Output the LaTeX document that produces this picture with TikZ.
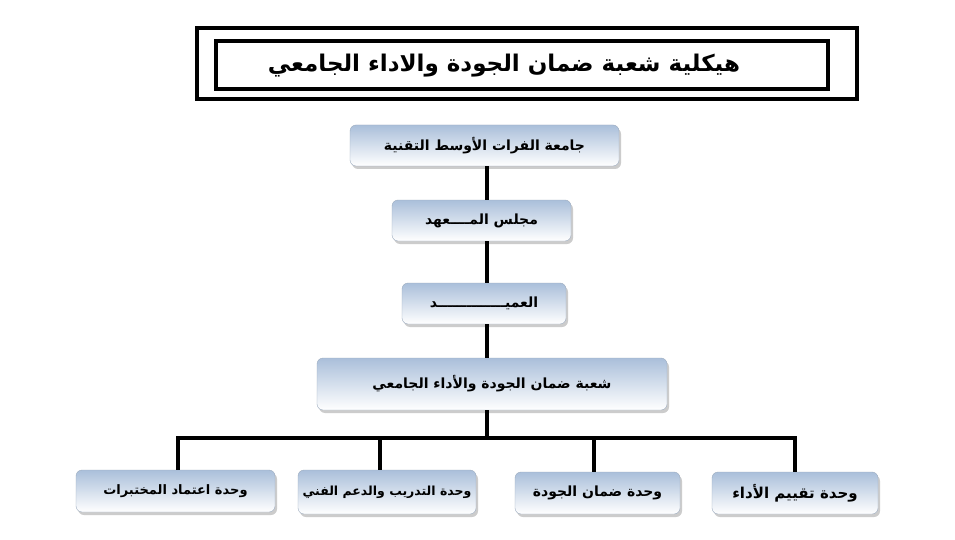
\documentclass[tikz,border=0pt]{standalone}
\usepackage{fontspec}
\usepackage{xcolor}
\usepackage{tikz}
\usetikzlibrary{shadows}
\TeXXeTstate=1
\newfontfamily\arabicfont[Script=Arabic]{DejaVu Sans}
\definecolor{boxtop}{RGB}{170,191,218}
\newcommand{\ar}[1]{\arabicfont\bfseries\beginR #1\endR}

\begin{document}
\begin{tikzpicture}[x=1pt, y=-1pt,
    unitbox/.style={rounded corners=6pt, top color=boxtop, bottom color=white,
      draw=boxtop!70!gray, line width=0.4pt, inner sep=2pt,
      drop shadow={opacity=0.4, shadow xshift=2pt, shadow yshift=-3pt},
      font=\fontsize{14}{16}\selectfont},
    link/.style={line width=3.5pt, black}]
  % page frame
  \useasboundingbox (0,0) rectangle (955,540);
  \fill[white] (0,0) rectangle (955,540);

  % title frame, double border
  \draw[line width=4pt] (197,28) rectangle (857,99);
  \draw[line width=4pt] (216,41) rectangle (828,89);
  \node (title) at (504,66) {\fontsize{23}{27}\selectfont\ar{هيكلية شعبة ضمان الجودة والاداء الجامعي}};

  % trunk of the chart
  \coordinate (trunk) at (487,0);
  \node[unitbox, minimum width=269pt, minimum height=41pt] (uni) at (484.5,145.5) {\ar{جامعة الفرات الأوسط التقنية}};
  \node[unitbox, minimum width=179pt, minimum height=41pt] (council) at (481.5,220.5) {\ar{مجلس المــــعهد}};
  \node[unitbox, minimum width=164pt, minimum height=41pt] (dean) at (484,303.5) {\ar{العميــــــــــــــد}};
  \node[unitbox, minimum width=350pt, minimum height=52pt] (dept) at (492,384) {\ar{شعبة ضمان الجودة والأداء الجامعي}};

  % units
  \node[unitbox, minimum width=199pt, minimum height=42pt, font=\fontsize{13}{15}\selectfont] (lab) at (175.5,491) {\ar{وحدة اعتماد المختبرات}};
  \node[unitbox, minimum width=178pt, minimum height=44pt, font=\fontsize{12.5}{15}\selectfont] (train) at (387,492) {\ar{وحدة التدريب والدعم الفني}};
  \node[unitbox, minimum width=165pt, minimum height=42pt] (qual) at (597.5,493) {\ar{وحدة ضمان الجودة}};
  \node[unitbox, minimum width=166pt, minimum height=42pt, font=\fontsize{15}{17}\selectfont] (perf) at (795,493) {\ar{وحدة تقييم الأداء}};

  % connectors
  \draw[link] (uni.south -| trunk) -- (council.north -| trunk);
  \draw[link] (council.south -| trunk) -- (dean.north -| trunk);
  \draw[link] (dean.south -| trunk) -- (dept.north -| trunk);
  \draw[link] (dept.south -| trunk) -- ++(0,28) coordinate (bar);
  \draw[link] ([xshift=2.5pt]lab.north) |- (bar) -| (perf.north);
  \draw[link] ([xshift=-7pt]train.north) -- ([xshift=-7pt]train.north |- bar);
  \draw[link] ([xshift=-3.5pt]qual.north) -- ([xshift=-3.5pt]qual.north |- bar);
\end{tikzpicture}
\end{document}
